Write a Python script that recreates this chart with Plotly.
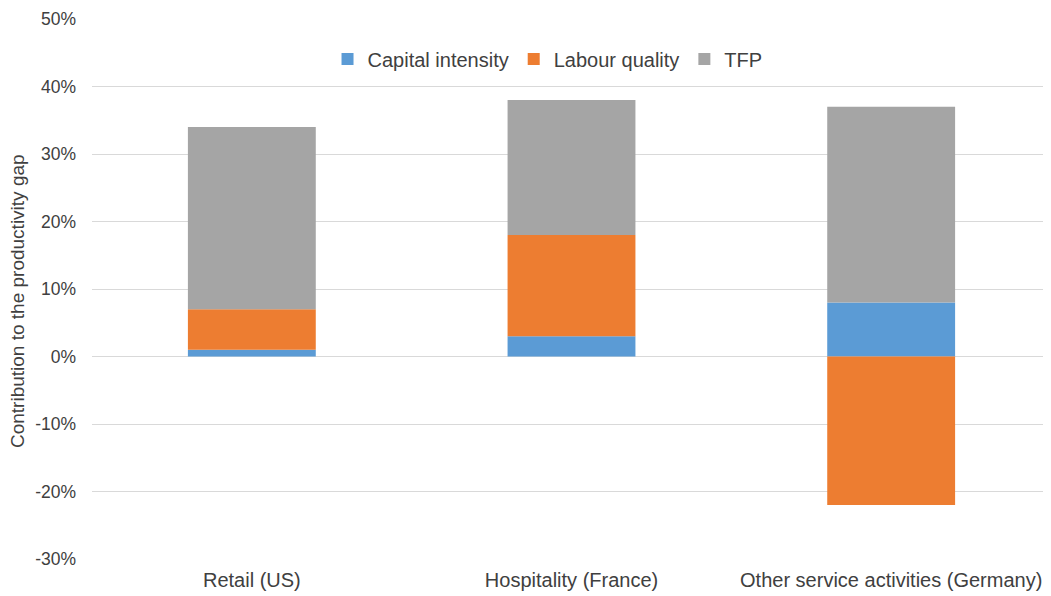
import plotly.graph_objects as go

categories = ["Retail (US)", "Hospitality (France)", "Other service activities (Germany)"]
capital_intensity = [0.01, 0.03, 0.08]
labour_quality = [0.06, 0.15, -0.22]
tfp = [0.27, 0.20, 0.29]

tick_values = [-0.30, -0.20, -0.10, 0.0, 0.10, 0.20, 0.30, 0.40, 0.50]
tick_labels = ["-30%", "-20%", "-10%", "0%", "10%", "20%", "30%", "40%", "50%"]

series = [
    ("Capital intensity", capital_intensity, "#5B9BD5"),
    ("Labour quality", labour_quality, "#ED7D31"),
    ("TFP", tfp, "#A5A5A5"),
]

font_family = "Liberation Sans, Arial, sans-serif"
text_color = "#404040"

fig = go.Figure()
for name, vals, color in series:
    fig.add_trace(go.Bar(
        name=name, x=categories, y=vals,
        marker=dict(color=color, line=dict(width=0)),
    ))

fig.update_layout(
    width=1043, height=588,
    barmode="relative",
    bargap=0.6,
    plot_bgcolor="white",
    paper_bgcolor="white",
    margin=dict(l=84, r=0, t=11, b=37, autoexpand=False),
    font=dict(family=font_family, size=20, color=text_color),
    legend=dict(
        orientation="h", x=0.475, xanchor="center", y=0.926, yanchor="middle",
        font=dict(size=20, color=text_color), bgcolor="rgba(0,0,0,0)",
        traceorder="normal",
    ),
    xaxis=dict(
        showgrid=False, showline=False, ticks="", ticklabelstandoff=7,
        tickfont=dict(size=20, color=text_color),
    ),
    yaxis=dict(
        range=[-0.30, 0.50], tickvals=tick_values, ticktext=tick_labels,
        showgrid=True, gridcolor="#D9D9D9", gridwidth=1,
        zeroline=True, zerolinecolor="#D9D9D9", zerolinewidth=1,
        showline=False, ticks="", ticklen=0, ticklabelstandoff=15,
        tickfont=dict(size=17.5, color=text_color),
    ),
    annotations=[dict(
        text="Contribution to the productivity gap",
        xref="paper", yref="paper", x=-0.077, y=0.478,
        xanchor="center", yanchor="middle", textangle=-90, showarrow=False,
        font=dict(size=19, color=text_color),
    )],
)

fig.write_html("out.html")
